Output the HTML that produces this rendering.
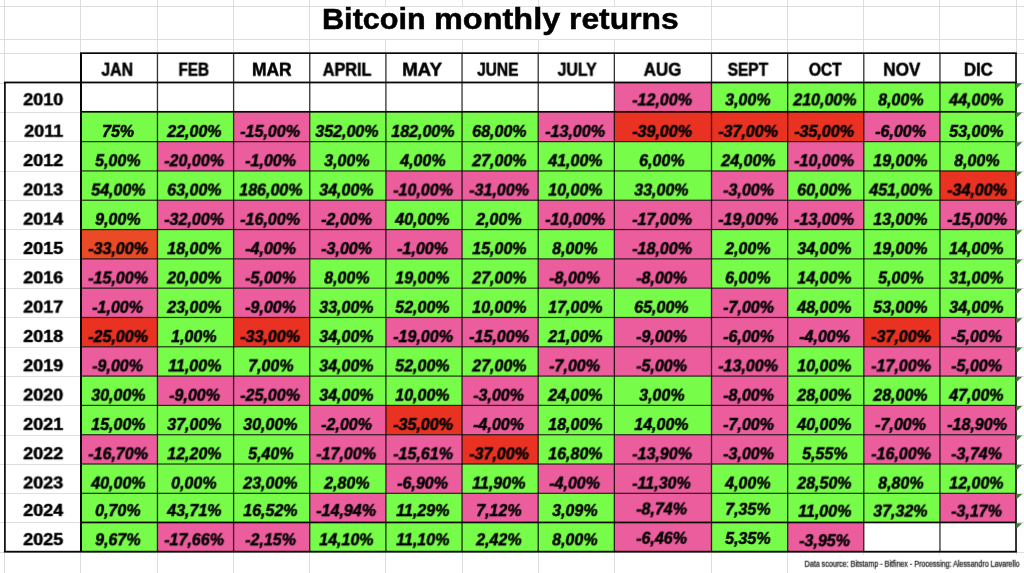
<!DOCTYPE html>
<html lang="en">
<head>
<meta charset="utf-8">
<title>Bitcoin monthly returns</title>
<style>
html,body{margin:0;padding:0;background:#fff;}
body{width:1024px;height:573px;overflow:hidden;position:relative;font-family:"Liberation Sans",sans-serif;color:#000;}
#sheet{position:absolute;left:0;top:0;width:1024px;height:573px;overflow:hidden;background:#fff;}
#bg{position:absolute;left:0;top:0;width:1024px;height:573px;}
.c{position:absolute;height:26px;line-height:26px;text-align:center;white-space:nowrap;}
.c span{display:inline-block;-webkit-text-stroke:0.5px #000;}
.v{font-weight:bold;font-style:italic;font-size:16.3px;letter-spacing:0px;}
.h{font-weight:bold;font-size:17.5px;top:56px;}
.y{font-weight:bold;font-size:17.3px;left:4.9px;width:77.4px;}
#title{position:absolute;left:0;width:1024px;top:-3px;height:40px;line-height:40px;font-weight:bold;font-size:30.4px;white-space:nowrap;}
#title span{position:absolute;top:0;display:inline-block;transform-origin:0 50%;-webkit-text-stroke:0.5px #000;}
#foot{color:#111;position:absolute;right:4.4px;top:555px;height:16px;line-height:16px;font-size:8.3px;white-space:nowrap;}
#foot span{display:inline-block;transform-origin:100% 50%;transform:translateY(0.7px) scaleX(0.858) rotateX(1deg);-webkit-text-stroke:0.25px #111;}
.v.r0{top:86px;}
.v.r0 span{transform:translate(-1.2px,0.4px) scaleX(0.985) rotateX(1deg);}
.y.r0{top:86px;}
.y.r0 span{transform:translateY(0.2px) scaleX(1.04) rotateX(1deg);}
.v.r1{top:117px;}
.v.r1 span{transform:translate(-1.2px,0.92px) scaleX(0.985) rotateX(1deg);}
.y.r1{top:117px;}
.y.r1 span{transform:translateY(0.72px) scaleX(1.04) rotateX(1deg);}
.v.r2{top:147px;}
.v.r2 span{transform:translate(-1.2px,0.23px) scaleX(0.985) rotateX(1deg);}
.y.r2{top:147px;}
.y.r2 span{transform:translateY(0.03px) scaleX(1.04) rotateX(1deg);}
.v.r3{top:176px;}
.v.r3 span{transform:translate(-1.2px,0.54px) scaleX(0.985) rotateX(1deg);}
.y.r3{top:176px;}
.y.r3 span{transform:translateY(0.34px) scaleX(1.04) rotateX(1deg);}
.v.r4{top:205px;}
.v.r4 span{transform:translate(-1.2px,0.85px) scaleX(0.985) rotateX(1deg);}
.y.r4{top:205px;}
.y.r4 span{transform:translateY(0.65px) scaleX(1.04) rotateX(1deg);}
.v.r5{top:235px;}
.v.r5 span{transform:translate(-1.2px,0.16px) scaleX(0.985) rotateX(1deg);}
.y.r5{top:234px;}
.y.r5 span{transform:translateY(0.96px) scaleX(1.04) rotateX(1deg);}
.v.r6{top:264px;}
.v.r6 span{transform:translate(-1.2px,0.47px) scaleX(0.985) rotateX(1deg);}
.y.r6{top:264px;}
.y.r6 span{transform:translateY(0.27px) scaleX(1.04) rotateX(1deg);}
.v.r7{top:293px;}
.v.r7 span{transform:translate(-1.2px,0.78px) scaleX(0.985) rotateX(1deg);}
.y.r7{top:293px;}
.y.r7 span{transform:translateY(0.58px) scaleX(1.04) rotateX(1deg);}
.v.r8{top:323px;}
.v.r8 span{transform:translate(-1.2px,0.09px) scaleX(0.985) rotateX(1deg);}
.y.r8{top:322px;}
.y.r8 span{transform:translateY(0.89px) scaleX(1.04) rotateX(1deg);}
.v.r9{top:352px;}
.v.r9 span{transform:translate(-1.2px,0.4px) scaleX(0.985) rotateX(1deg);}
.y.r9{top:352px;}
.y.r9 span{transform:translateY(0.2px) scaleX(1.04) rotateX(1deg);}
.v.r10{top:381px;}
.v.r10 span{transform:translate(-1.2px,0.71px) scaleX(0.985) rotateX(1deg);}
.y.r10{top:381px;}
.y.r10 span{transform:translateY(0.51px) scaleX(1.04) rotateX(1deg);}
.v.r11{top:411px;}
.v.r11 span{transform:translate(-1.2px,0.02px) scaleX(0.985) rotateX(1deg);}
.y.r11{top:410px;}
.y.r11 span{transform:translateY(0.82px) scaleX(1.04) rotateX(1deg);}
.v.r12{top:440px;}
.v.r12 span{transform:translate(-1.2px,0.33px) scaleX(0.985) rotateX(1deg);}
.y.r12{top:440px;}
.y.r12 span{transform:translateY(0.13px) scaleX(1.04) rotateX(1deg);}
.v.r13{top:469px;}
.v.r13 span{transform:translate(-1.2px,0.64px) scaleX(0.985) rotateX(1deg);}
.y.r13{top:469px;}
.y.r13 span{transform:translateY(0.44px) scaleX(1.04) rotateX(1deg);}
.v.r14{top:497px;}
.v.r14 span{transform:translate(-1.2px,0.1px) scaleX(0.985) rotateX(1deg);}
.y.r14{top:496px;}
.y.r14 span{transform:translateY(0.9px) scaleX(1.04) rotateX(1deg);}
.v.r15{top:526px;}
.v.r15 span{transform:translate(-1.2px,0.3px) scaleX(0.985) rotateX(1deg);}
.y.r15{top:526px;}
.y.r15 span{transform:translateY(0.1px) scaleX(1.04) rotateX(1deg);}
.k0{left:81px;width:76.45px;}
.k1{left:157.45px;width:76.15px;}
.k2{left:233.6px;width:76.15px;}
.k3{left:309.75px;width:76.15px;}
.k4{left:385.9px;width:76.15px;}
.k5{left:462.05px;width:76.15px;}
.k6{left:538.2px;width:76.15px;}
.k7{left:614.35px;width:97.15px;}
.k8{left:711.5px;width:76.15px;}
.k9{left:787.65px;width:76.15px;}
.k10{left:863.8px;width:76.15px;}
.k11{left:939.95px;width:76.05px;}
</style>
</head>
<body>
<div id="sheet">
<svg id="bg" width="1024" height="573" viewBox="0 0 1024 573">
<g fill="#dedede">
<rect x="4" y="0" width="1" height="573"/>
<rect x="80" y="0" width="1" height="573"/>
<rect x="157" y="0" width="1" height="573"/>
<rect x="233" y="0" width="1" height="573"/>
<rect x="309" y="0" width="1" height="573"/>
<rect x="385" y="0" width="1" height="573"/>
<rect x="462" y="0" width="1" height="573"/>
<rect x="538" y="0" width="1" height="573"/>
<rect x="614" y="0" width="1" height="573"/>
<rect x="711" y="0" width="1" height="573"/>
<rect x="787" y="0" width="1" height="573"/>
<rect x="863" y="0" width="1" height="573"/>
<rect x="939" y="0" width="1" height="573"/>
<rect x="1016" y="0" width="1" height="573"/>
<rect x="0" y="6" width="1024" height="1"/>
<rect x="0" y="39" width="1024" height="1"/>
<rect x="0" y="53" width="1024" height="1"/>
<rect x="0" y="83" width="1024" height="1"/>
<rect x="0" y="112" width="1024" height="1"/>
<rect x="0" y="141" width="1024" height="1"/>
<rect x="0" y="171" width="1024" height="1"/>
<rect x="0" y="200" width="1024" height="1"/>
<rect x="0" y="229" width="1024" height="1"/>
<rect x="0" y="259" width="1024" height="1"/>
<rect x="0" y="288" width="1024" height="1"/>
<rect x="0" y="317" width="1024" height="1"/>
<rect x="0" y="347" width="1024" height="1"/>
<rect x="0" y="376" width="1024" height="1"/>
<rect x="0" y="405" width="1024" height="1"/>
<rect x="0" y="435" width="1024" height="1"/>
<rect x="0" y="464" width="1024" height="1"/>
<rect x="0" y="493" width="1024" height="1"/>
<rect x="0" y="522" width="1024" height="1"/>
<rect x="0" y="552" width="1024" height="1"/>
</g>
<rect x="310" y="7" width="401" height="32" fill="#fff"/>
<rect x="788" y="554.7" width="236.35" height="21.3" fill="#fff"/>
<rect x="81" y="53" width="935" height="498.7" fill="#fff"/>
<rect x="4.9" y="82.47" width="76.1" height="469.23" fill="#fff"/>
<g fill="#dedede">
<rect x="4.9" y="112" width="76.1" height="1"/>
<rect x="4.9" y="141" width="76.1" height="1"/>
<rect x="4.9" y="171" width="76.1" height="1"/>
<rect x="4.9" y="200" width="76.1" height="1"/>
<rect x="4.9" y="229" width="76.1" height="1"/>
<rect x="4.9" y="259" width="76.1" height="1"/>
<rect x="4.9" y="288" width="76.1" height="1"/>
<rect x="4.9" y="317" width="76.1" height="1"/>
<rect x="4.9" y="347" width="76.1" height="1"/>
<rect x="4.9" y="376" width="76.1" height="1"/>
<rect x="4.9" y="405" width="76.1" height="1"/>
<rect x="4.9" y="435" width="76.1" height="1"/>
<rect x="4.9" y="464" width="76.1" height="1"/>
<rect x="4.9" y="493" width="76.1" height="1"/>
<rect x="4.9" y="522" width="76.1" height="1"/>
</g>
<g fill="#78fc4a">
<rect x="711.5" y="82.47" width="304.5" height="29.33"/>
<rect x="81" y="111.8" width="152.6" height="29.82"/>
<rect x="309.75" y="111.8" width="228.45" height="29.82"/>
<rect x="939.95" y="111.8" width="76.05" height="29.82"/>
<rect x="81" y="141.62" width="76.45" height="29.31"/>
<rect x="309.75" y="141.62" width="477.9" height="29.31"/>
<rect x="863.8" y="141.62" width="152.2" height="29.31"/>
<rect x="81" y="170.93" width="304.9" height="29.31"/>
<rect x="538.2" y="170.93" width="173.3" height="29.31"/>
<rect x="787.65" y="170.93" width="152.3" height="29.31"/>
<rect x="81" y="200.24" width="76.45" height="29.31"/>
<rect x="385.9" y="200.24" width="152.3" height="29.31"/>
<rect x="863.8" y="200.24" width="76.15" height="29.31"/>
<rect x="157.45" y="229.55" width="76.15" height="29.31"/>
<rect x="462.05" y="229.55" width="152.3" height="29.31"/>
<rect x="711.5" y="229.55" width="304.5" height="29.31"/>
<rect x="157.45" y="258.86" width="76.15" height="29.31"/>
<rect x="309.75" y="258.86" width="228.45" height="29.31"/>
<rect x="711.5" y="258.86" width="304.5" height="29.31"/>
<rect x="157.45" y="288.17" width="76.15" height="29.31"/>
<rect x="309.75" y="288.17" width="401.75" height="29.31"/>
<rect x="787.65" y="288.17" width="228.35" height="29.31"/>
<rect x="157.45" y="317.48" width="76.15" height="29.31"/>
<rect x="309.75" y="317.48" width="76.15" height="29.31"/>
<rect x="538.2" y="317.48" width="76.15" height="29.31"/>
<rect x="157.45" y="346.79" width="380.75" height="29.31"/>
<rect x="787.65" y="346.79" width="76.15" height="29.31"/>
<rect x="81" y="376.1" width="76.45" height="29.31"/>
<rect x="309.75" y="376.1" width="152.3" height="29.31"/>
<rect x="538.2" y="376.1" width="173.3" height="29.31"/>
<rect x="787.65" y="376.1" width="228.35" height="29.31"/>
<rect x="81" y="405.41" width="228.75" height="29.31"/>
<rect x="538.2" y="405.41" width="173.3" height="29.31"/>
<rect x="787.65" y="405.41" width="76.15" height="29.31"/>
<rect x="157.45" y="434.72" width="152.3" height="29.31"/>
<rect x="538.2" y="434.72" width="76.15" height="29.31"/>
<rect x="787.65" y="434.72" width="76.15" height="29.31"/>
<rect x="81" y="464.03" width="304.9" height="29.31"/>
<rect x="462.05" y="464.03" width="76.15" height="29.31"/>
<rect x="711.5" y="464.03" width="304.5" height="29.31"/>
<rect x="81" y="493.34" width="228.75" height="29.11"/>
<rect x="385.9" y="493.34" width="76.15" height="29.11"/>
<rect x="538.2" y="493.34" width="76.15" height="29.11"/>
<rect x="711.5" y="493.34" width="228.45" height="29.11"/>
<rect x="81" y="522.45" width="76.45" height="29.25"/>
<rect x="309.75" y="522.45" width="304.6" height="29.25"/>
<rect x="711.5" y="522.45" width="76.15" height="29.25"/>
</g>
<g fill="#eb5d9c">
<rect x="614.35" y="82.47" width="97.15" height="29.33"/>
<rect x="233.6" y="111.8" width="76.15" height="29.82"/>
<rect x="538.2" y="111.8" width="76.15" height="29.82"/>
<rect x="863.8" y="111.8" width="76.15" height="29.82"/>
<rect x="157.45" y="141.62" width="152.3" height="29.31"/>
<rect x="787.65" y="141.62" width="76.15" height="29.31"/>
<rect x="385.9" y="170.93" width="152.3" height="29.31"/>
<rect x="711.5" y="170.93" width="76.15" height="29.31"/>
<rect x="157.45" y="200.24" width="228.45" height="29.31"/>
<rect x="538.2" y="200.24" width="325.6" height="29.31"/>
<rect x="939.95" y="200.24" width="76.05" height="29.31"/>
<rect x="233.6" y="229.55" width="228.45" height="29.31"/>
<rect x="614.35" y="229.55" width="97.15" height="29.31"/>
<rect x="81" y="258.86" width="76.45" height="29.31"/>
<rect x="233.6" y="258.86" width="76.15" height="29.31"/>
<rect x="538.2" y="258.86" width="173.3" height="29.31"/>
<rect x="81" y="288.17" width="76.45" height="29.31"/>
<rect x="233.6" y="288.17" width="76.15" height="29.31"/>
<rect x="711.5" y="288.17" width="76.15" height="29.31"/>
<rect x="385.9" y="317.48" width="152.3" height="29.31"/>
<rect x="614.35" y="317.48" width="249.45" height="29.31"/>
<rect x="939.95" y="317.48" width="76.05" height="29.31"/>
<rect x="81" y="346.79" width="76.45" height="29.31"/>
<rect x="538.2" y="346.79" width="249.45" height="29.31"/>
<rect x="863.8" y="346.79" width="152.2" height="29.31"/>
<rect x="157.45" y="376.1" width="152.3" height="29.31"/>
<rect x="462.05" y="376.1" width="76.15" height="29.31"/>
<rect x="711.5" y="376.1" width="76.15" height="29.31"/>
<rect x="309.75" y="405.41" width="76.15" height="29.31"/>
<rect x="462.05" y="405.41" width="76.15" height="29.31"/>
<rect x="711.5" y="405.41" width="76.15" height="29.31"/>
<rect x="863.8" y="405.41" width="152.2" height="29.31"/>
<rect x="81" y="434.72" width="76.45" height="29.31"/>
<rect x="309.75" y="434.72" width="152.3" height="29.31"/>
<rect x="614.35" y="434.72" width="173.3" height="29.31"/>
<rect x="863.8" y="434.72" width="152.2" height="29.31"/>
<rect x="385.9" y="464.03" width="76.15" height="29.31"/>
<rect x="538.2" y="464.03" width="173.3" height="29.31"/>
<rect x="309.75" y="493.34" width="76.15" height="29.11"/>
<rect x="462.05" y="493.34" width="76.15" height="29.11"/>
<rect x="614.35" y="493.34" width="97.15" height="29.11"/>
<rect x="939.95" y="493.34" width="76.05" height="29.11"/>
<rect x="157.45" y="522.45" width="152.3" height="29.25"/>
<rect x="614.35" y="522.45" width="97.15" height="29.25"/>
<rect x="787.65" y="522.45" width="76.15" height="29.25"/>
</g>
<g fill="#ea3222">
<rect x="614.35" y="111.8" width="249.45" height="29.82"/>
<rect x="939.95" y="170.93" width="76.05" height="29.31"/>
<rect x="81" y="317.48" width="76.45" height="29.31"/>
<rect x="233.6" y="317.48" width="76.15" height="29.31"/>
<rect x="863.8" y="317.48" width="76.15" height="29.31"/>
<rect x="385.9" y="405.41" width="76.15" height="29.31"/>
<rect x="462.05" y="434.72" width="76.15" height="29.31"/>
</g>
<g fill="#ea4a26">
<rect x="81" y="229.55" width="76.45" height="29.31"/>
</g>
<g fill="#000" fill-opacity="0.8">
<rect x="156.8" y="53" width="1.3" height="498.7"/>
<rect x="232.95" y="53" width="1.3" height="498.7"/>
<rect x="309.1" y="53" width="1.3" height="498.7"/>
<rect x="385.25" y="53" width="1.3" height="498.7"/>
<rect x="461.4" y="53" width="1.3" height="498.7"/>
<rect x="537.55" y="53" width="1.3" height="498.7"/>
<rect x="613.7" y="53" width="1.3" height="498.7"/>
<rect x="710.85" y="53" width="1.3" height="498.7"/>
<rect x="787" y="53" width="1.3" height="498.7"/>
<rect x="863.15" y="53" width="1.3" height="498.7"/>
<rect x="939.3" y="53" width="1.3" height="498.7"/>
</g>
<g fill="#000" fill-opacity="0.8">
<rect x="81" y="141.02" width="935" height="1.2"/>
<rect x="81" y="170.33" width="935" height="1.2"/>
<rect x="81" y="199.64" width="935" height="1.2"/>
<rect x="81" y="228.95" width="935" height="1.2"/>
<rect x="81" y="258.26" width="935" height="1.2"/>
<rect x="81" y="287.57" width="935" height="1.2"/>
<rect x="81" y="316.88" width="935" height="1.2"/>
<rect x="81" y="346.19" width="935" height="1.2"/>
<rect x="81" y="375.5" width="935" height="1.2"/>
<rect x="81" y="404.81" width="935" height="1.2"/>
<rect x="81" y="434.12" width="935" height="1.2"/>
<rect x="81" y="463.43" width="935" height="1.2"/>
<rect x="81" y="492.74" width="935" height="1.2"/>
</g>
<g fill="#000" fill-opacity="0.97">
<rect x="80" y="52.3" width="936.8" height="1.7"/>
<rect x="3.9" y="81.57" width="1013.1" height="1.8"/>
<rect x="3.9" y="550.8" width="1013.1" height="1.8"/>
<rect x="4.05" y="82.47" width="1.7" height="469.23"/>
<rect x="81" y="110.95" width="935" height="1.7"/>
<rect x="81" y="521.6" width="935" height="1.7"/>
<rect x="80" y="53" width="2" height="498.7"/>
<rect x="1015.2" y="53" width="1.6" height="498.7"/>
</g>
<g fill="#3f7f3c">
<path d="M1016.3 83.17h6l-6 5.5z"/>
<path d="M1016.3 112.5h6l-6 5.5z"/>
<path d="M1016.3 142.32h6l-6 5.5z"/>
<path d="M1016.3 171.63h6l-6 5.5z"/>
<path d="M1016.3 200.94h6l-6 5.5z"/>
<path d="M1016.3 230.25h6l-6 5.5z"/>
<path d="M1016.3 259.56h6l-6 5.5z"/>
<path d="M1016.3 288.87h6l-6 5.5z"/>
<path d="M1016.3 318.18h6l-6 5.5z"/>
<path d="M1016.3 347.49h6l-6 5.5z"/>
<path d="M1016.3 376.8h6l-6 5.5z"/>
<path d="M1016.3 406.11h6l-6 5.5z"/>
<path d="M1016.3 435.42h6l-6 5.5z"/>
<path d="M1016.3 464.73h6l-6 5.5z"/>
<path d="M1016.3 494.04h6l-6 5.5z"/>
<path d="M1016.3 523.15h6l-6 5.5z"/>
</g>
</svg>
<div id="title"><span style="left:321.6px;transform:translateY(0.97px) scaleX(1.008) rotateX(1deg)">Bitcoin</span> <span style="left:434.3px;transform:translateY(0.97px) scaleX(1.068) rotateX(1deg)">monthly</span> <span style="left:568.6px;transform:translateY(0.97px) scaleX(1.048) rotateX(1deg)">returns</span></div>
<div class="c h k0"><span style="transform:translate(-2.3px,0.7px) scaleX(0.91) rotateX(1deg)">JAN</span></div>
<div class="c h k1"><span style="transform:translate(-1.7px,0.7px) scaleX(0.877) rotateX(1deg)">FEB</span></div>
<div class="c h k2"><span style="transform:translate(-0.1px,0.7px) scaleX(0.995) rotateX(1deg)">MAR</span></div>
<div class="c h k3"><span style="transform:translate(-1.3px,0.7px) scaleX(0.926) rotateX(1deg)">APRIL</span></div>
<div class="c h k4"><span style="transform:translate(-1.6px,0.7px) scaleX(1.07) rotateX(1deg)">MAY</span></div>
<div class="c h k5"><span style="transform:translate(-2.55px,0.7px) scaleX(0.89) rotateX(1deg)">JUNE</span></div>
<div class="c h k6"><span style="transform:translate(0.5px,0.7px) scaleX(0.907) rotateX(1deg)">JULY</span></div>
<div class="c h k7"><span style="transform:translate(0px,0.7px) scaleX(0.968) rotateX(1deg)">AUG</span></div>
<div class="c h k8"><span style="transform:translate(-2.1px,0.7px) scaleX(0.885) rotateX(1deg)">SEPT</span></div>
<div class="c h k9"><span style="transform:translate(-0.3px,0.7px) scaleX(0.89) rotateX(1deg)">OCT</span></div>
<div class="c h k10"><span style="transform:translate(-0.2px,0.7px) scaleX(0.98) rotateX(1deg)">NOV</span></div>
<div class="c h k11"><span style="transform:translate(0.25px,0.7px) scaleX(0.96) rotateX(1deg)">DIC</span></div>
<div class="c y r0"><span>2010</span></div>
<div class="c v r0 k7"><span>-12,00%</span></div>
<div class="c v r0 k8"><span>3,00%</span></div>
<div class="c v r0 k9"><span>210,00%</span></div>
<div class="c v r0 k10"><span>8,00%</span></div>
<div class="c v r0 k11"><span>44,00%</span></div>
<div class="c y r1"><span>2011</span></div>
<div class="c v r1 k0"><span>75%</span></div>
<div class="c v r1 k1"><span>22,00%</span></div>
<div class="c v r1 k2"><span>-15,00%</span></div>
<div class="c v r1 k3"><span>352,00%</span></div>
<div class="c v r1 k4"><span>182,00%</span></div>
<div class="c v r1 k5"><span>68,00%</span></div>
<div class="c v r1 k6"><span>-13,00%</span></div>
<div class="c v r1 k7"><span>-39,00%</span></div>
<div class="c v r1 k8"><span>-37,00%</span></div>
<div class="c v r1 k9"><span>-35,00%</span></div>
<div class="c v r1 k10"><span>-6,00%</span></div>
<div class="c v r1 k11"><span>53,00%</span></div>
<div class="c y r2"><span>2012</span></div>
<div class="c v r2 k0"><span>5,00%</span></div>
<div class="c v r2 k1"><span>-20,00%</span></div>
<div class="c v r2 k2"><span>-1,00%</span></div>
<div class="c v r2 k3"><span>3,00%</span></div>
<div class="c v r2 k4"><span>4,00%</span></div>
<div class="c v r2 k5"><span>27,00%</span></div>
<div class="c v r2 k6"><span>41,00%</span></div>
<div class="c v r2 k7"><span>6,00%</span></div>
<div class="c v r2 k8"><span>24,00%</span></div>
<div class="c v r2 k9"><span>-10,00%</span></div>
<div class="c v r2 k10"><span>19,00%</span></div>
<div class="c v r2 k11"><span>8,00%</span></div>
<div class="c y r3"><span>2013</span></div>
<div class="c v r3 k0"><span>54,00%</span></div>
<div class="c v r3 k1"><span>63,00%</span></div>
<div class="c v r3 k2"><span>186,00%</span></div>
<div class="c v r3 k3"><span>34,00%</span></div>
<div class="c v r3 k4"><span>-10,00%</span></div>
<div class="c v r3 k5"><span>-31,00%</span></div>
<div class="c v r3 k6"><span>10,00%</span></div>
<div class="c v r3 k7"><span>33,00%</span></div>
<div class="c v r3 k8"><span>-3,00%</span></div>
<div class="c v r3 k9"><span>60,00%</span></div>
<div class="c v r3 k10"><span>451,00%</span></div>
<div class="c v r3 k11"><span>-34,00%</span></div>
<div class="c y r4"><span>2014</span></div>
<div class="c v r4 k0"><span>9,00%</span></div>
<div class="c v r4 k1"><span>-32,00%</span></div>
<div class="c v r4 k2"><span>-16,00%</span></div>
<div class="c v r4 k3"><span>-2,00%</span></div>
<div class="c v r4 k4"><span>40,00%</span></div>
<div class="c v r4 k5"><span>2,00%</span></div>
<div class="c v r4 k6"><span>-10,00%</span></div>
<div class="c v r4 k7"><span>-17,00%</span></div>
<div class="c v r4 k8"><span>-19,00%</span></div>
<div class="c v r4 k9"><span>-13,00%</span></div>
<div class="c v r4 k10"><span>13,00%</span></div>
<div class="c v r4 k11"><span>-15,00%</span></div>
<div class="c y r5"><span>2015</span></div>
<div class="c v r5 k0"><span>-33,00%</span></div>
<div class="c v r5 k1"><span>18,00%</span></div>
<div class="c v r5 k2"><span>-4,00%</span></div>
<div class="c v r5 k3"><span>-3,00%</span></div>
<div class="c v r5 k4"><span>-1,00%</span></div>
<div class="c v r5 k5"><span>15,00%</span></div>
<div class="c v r5 k6"><span>8,00%</span></div>
<div class="c v r5 k7"><span>-18,00%</span></div>
<div class="c v r5 k8"><span>2,00%</span></div>
<div class="c v r5 k9"><span>34,00%</span></div>
<div class="c v r5 k10"><span>19,00%</span></div>
<div class="c v r5 k11"><span>14,00%</span></div>
<div class="c y r6"><span>2016</span></div>
<div class="c v r6 k0"><span>-15,00%</span></div>
<div class="c v r6 k1"><span>20,00%</span></div>
<div class="c v r6 k2"><span>-5,00%</span></div>
<div class="c v r6 k3"><span>8,00%</span></div>
<div class="c v r6 k4"><span>19,00%</span></div>
<div class="c v r6 k5"><span>27,00%</span></div>
<div class="c v r6 k6"><span>-8,00%</span></div>
<div class="c v r6 k7"><span>-8,00%</span></div>
<div class="c v r6 k8"><span>6,00%</span></div>
<div class="c v r6 k9"><span>14,00%</span></div>
<div class="c v r6 k10"><span>5,00%</span></div>
<div class="c v r6 k11"><span>31,00%</span></div>
<div class="c y r7"><span>2017</span></div>
<div class="c v r7 k0"><span>-1,00%</span></div>
<div class="c v r7 k1"><span>23,00%</span></div>
<div class="c v r7 k2"><span>-9,00%</span></div>
<div class="c v r7 k3"><span>33,00%</span></div>
<div class="c v r7 k4"><span>52,00%</span></div>
<div class="c v r7 k5"><span>10,00%</span></div>
<div class="c v r7 k6"><span>17,00%</span></div>
<div class="c v r7 k7"><span>65,00%</span></div>
<div class="c v r7 k8"><span>-7,00%</span></div>
<div class="c v r7 k9"><span>48,00%</span></div>
<div class="c v r7 k10"><span>53,00%</span></div>
<div class="c v r7 k11"><span>34,00%</span></div>
<div class="c y r8"><span>2018</span></div>
<div class="c v r8 k0"><span>-25,00%</span></div>
<div class="c v r8 k1"><span>1,00%</span></div>
<div class="c v r8 k2"><span>-33,00%</span></div>
<div class="c v r8 k3"><span>34,00%</span></div>
<div class="c v r8 k4"><span>-19,00%</span></div>
<div class="c v r8 k5"><span>-15,00%</span></div>
<div class="c v r8 k6"><span>21,00%</span></div>
<div class="c v r8 k7"><span>-9,00%</span></div>
<div class="c v r8 k8"><span>-6,00%</span></div>
<div class="c v r8 k9"><span>-4,00%</span></div>
<div class="c v r8 k10"><span>-37,00%</span></div>
<div class="c v r8 k11"><span>-5,00%</span></div>
<div class="c y r9"><span>2019</span></div>
<div class="c v r9 k0"><span>-9,00%</span></div>
<div class="c v r9 k1"><span>11,00%</span></div>
<div class="c v r9 k2"><span>7,00%</span></div>
<div class="c v r9 k3"><span>34,00%</span></div>
<div class="c v r9 k4"><span>52,00%</span></div>
<div class="c v r9 k5"><span>27,00%</span></div>
<div class="c v r9 k6"><span>-7,00%</span></div>
<div class="c v r9 k7"><span>-5,00%</span></div>
<div class="c v r9 k8"><span>-13,00%</span></div>
<div class="c v r9 k9"><span>10,00%</span></div>
<div class="c v r9 k10"><span>-17,00%</span></div>
<div class="c v r9 k11"><span>-5,00%</span></div>
<div class="c y r10"><span>2020</span></div>
<div class="c v r10 k0"><span>30,00%</span></div>
<div class="c v r10 k1"><span>-9,00%</span></div>
<div class="c v r10 k2"><span>-25,00%</span></div>
<div class="c v r10 k3"><span>34,00%</span></div>
<div class="c v r10 k4"><span>10,00%</span></div>
<div class="c v r10 k5"><span>-3,00%</span></div>
<div class="c v r10 k6"><span>24,00%</span></div>
<div class="c v r10 k7"><span>3,00%</span></div>
<div class="c v r10 k8"><span>-8,00%</span></div>
<div class="c v r10 k9"><span>28,00%</span></div>
<div class="c v r10 k10"><span>28,00%</span></div>
<div class="c v r10 k11"><span>47,00%</span></div>
<div class="c y r11"><span>2021</span></div>
<div class="c v r11 k0"><span>15,00%</span></div>
<div class="c v r11 k1"><span>37,00%</span></div>
<div class="c v r11 k2"><span>30,00%</span></div>
<div class="c v r11 k3"><span>-2,00%</span></div>
<div class="c v r11 k4"><span>-35,00%</span></div>
<div class="c v r11 k5"><span>-4,00%</span></div>
<div class="c v r11 k6"><span>18,00%</span></div>
<div class="c v r11 k7"><span>14,00%</span></div>
<div class="c v r11 k8"><span>-7,00%</span></div>
<div class="c v r11 k9"><span>40,00%</span></div>
<div class="c v r11 k10"><span>-7,00%</span></div>
<div class="c v r11 k11"><span>-18,90%</span></div>
<div class="c y r12"><span>2022</span></div>
<div class="c v r12 k0"><span>-16,70%</span></div>
<div class="c v r12 k1"><span>12,20%</span></div>
<div class="c v r12 k2"><span>5,40%</span></div>
<div class="c v r12 k3"><span>-17,00%</span></div>
<div class="c v r12 k4"><span>-15,61%</span></div>
<div class="c v r12 k5"><span>-37,00%</span></div>
<div class="c v r12 k6"><span>16,80%</span></div>
<div class="c v r12 k7"><span>-13,90%</span></div>
<div class="c v r12 k8"><span>-3,00%</span></div>
<div class="c v r12 k9"><span>5,55%</span></div>
<div class="c v r12 k10"><span>-16,00%</span></div>
<div class="c v r12 k11"><span>-3,74%</span></div>
<div class="c y r13"><span>2023</span></div>
<div class="c v r13 k0"><span>40,00%</span></div>
<div class="c v r13 k1"><span>0,00%</span></div>
<div class="c v r13 k2"><span>23,00%</span></div>
<div class="c v r13 k3"><span>2,80%</span></div>
<div class="c v r13 k4"><span>-6,90%</span></div>
<div class="c v r13 k5"><span>11,90%</span></div>
<div class="c v r13 k6"><span>-4,00%</span></div>
<div class="c v r13 k7"><span>-11,30%</span></div>
<div class="c v r13 k8"><span>4,00%</span></div>
<div class="c v r13 k9"><span>28,50%</span></div>
<div class="c v r13 k10"><span>8,80%</span></div>
<div class="c v r13 k11"><span>12,00%</span></div>
<div class="c y r14"><span>2024</span></div>
<div class="c v r14 k0"><span>0,70%</span></div>
<div class="c v r14 k1"><span>43,71%</span></div>
<div class="c v r14 k2"><span>16,52%</span></div>
<div class="c v r14 k3"><span>-14,94%</span></div>
<div class="c v r14 k4"><span>11,29%</span></div>
<div class="c v r14 k5"><span>7,12%</span></div>
<div class="c v r14 k6"><span>3,09%</span></div>
<div class="c v r14 k7" style="top:495px"><span style="transform:translate(-1.2px,0.5px) scaleX(0.985) rotateX(1deg)">-8,74%</span></div>
<div class="c v r14 k8" style="top:495px"><span style="transform:translate(-1.2px,0.8px) scaleX(0.985) rotateX(1deg)">7,35%</span></div>
<div class="c v r14 k9" style="top:497px"><span style="transform:translate(-1.2px,0.7px) scaleX(0.985) rotateX(1deg)">11,00%</span></div>
<div class="c v r14 k10" style="top:497px"><span style="transform:translate(-1.2px,0.6px) scaleX(0.985) rotateX(1deg)">37,32%</span></div>
<div class="c v r14 k11" style="top:497px"><span style="transform:translate(-1.2px,0.6px) scaleX(0.985) rotateX(1deg)">-3,17%</span></div>
<div class="c y r15"><span>2025</span></div>
<div class="c v r15 k0"><span>9,67%</span></div>
<div class="c v r15 k1"><span>-17,66%</span></div>
<div class="c v r15 k2"><span>-2,15%</span></div>
<div class="c v r15 k3"><span>14,10%</span></div>
<div class="c v r15 k4"><span>11,10%</span></div>
<div class="c v r15 k5"><span>2,42%</span></div>
<div class="c v r15 k6"><span>8,00%</span></div>
<div class="c v r15 k7" style="top:524px"><span style="transform:translate(-1.2px,0.7px) scaleX(0.985) rotateX(1deg)">-6,46%</span></div>
<div class="c v r15 k8" style="top:525px"><span style="transform:translate(-1.2px,0px) scaleX(0.985) rotateX(1deg)">5,35%</span></div>
<div class="c v r15 k9" style="top:527px"><span style="transform:translate(-1.2px,0.2px) scaleX(0.985) rotateX(1deg)">-3,95%</span></div>
<div id="foot"><span>Data scource: Bitstamp - Bitfinex - Processing: Alessandro Lavarello</span></div>
</div>
</body>
</html>
